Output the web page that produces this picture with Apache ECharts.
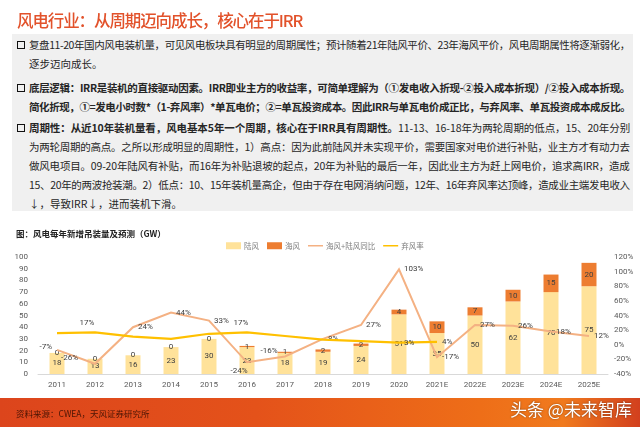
<!DOCTYPE html>
<html><head><meta charset="utf-8">
<script src="https://cdn.jsdelivr.net/npm/echarts@6/dist/echarts.min.js"></script>
<style>
html,body{margin:0;padding:0;width:640px;height:427px;overflow:hidden;background:#fff;font-family:"Noto Sans CJK SC","Noto Sans",sans-serif;}
#chart{position:absolute;left:0;top:0;width:640px;height:427px;}
.abs{position:absolute;white-space:nowrap;}
#title{left:17px;top:8px;font-size:16.5px;color:#E2522B;font-weight:500;line-height:24px;}
#box{left:12px;top:34px;width:621px;height:177px;background:#F0F0F0;}
.ln{font-size:10.5px;color:#262626;line-height:16px;}
.sq{display:inline-block;width:6px;height:6px;border:1.6px solid #111;margin-right:4px;vertical-align:0px;}
#cap{left:16px;top:227px;font-size:8.5px;color:#222;font-weight:bold;line-height:12px;}
#foot{left:0;top:398px;width:640px;height:29px;background:linear-gradient(90deg,#DC451C 0%,#E4521A 40%,#EE6E18 75%,#F07A1E 88%,#D2401E 100%);}
#src{left:16px;top:407px;font-size:8.5px;color:#4a1505;line-height:12px;}
#wm{left:510px;top:398px;font-size:17px;color:#fff;line-height:22px;text-shadow:0 0 2px rgba(0,0,0,0.5);}
</style></head>
<body>
<div id="chart"></div>
<div class="abs" id="title">风电行业：从周期迈向成长，核心在于IRR</div>
<div class="abs" id="box"></div>
<div class="abs ln fit" style="left:17px;top:37px"><span class="sq"></span>复盘11-20年国内风电装机量，可见风电板块具有明显的周期属性；预计随着21年陆风平价、23年海风平价，风电周期属性将逐渐弱化，</div>
<div class="abs ln" style="left:29px;top:56px">逐步迈向成长。</div>
<div class="abs ln fit" style="left:17px;top:80px;font-weight:bold"><span class="sq"></span>底层逻辑：IRR是装机的直接驱动因素。IRR即业主方的收益率，可简单理解为（①发电收入折现-②投入成本折现）/②投入成本折现。</div>
<div class="abs ln fit" style="left:29px;top:99px;font-weight:bold">简化折现，①=发电小时数*（1-弃风率）*单瓦电价；②=单瓦投资成本。因此IRR与单瓦电价成正比，与弃风率、单瓦投资成本成反比。</div>
<div class="abs ln fit" style="left:17px;top:120px"><span class="sq"></span><b>周期性：从近10年装机量看，风电基本5年一个周期，核心在于IRR具有周期性。</b>11-13、16-18年为两轮周期的低点，15、20年分别</div>
<div class="abs ln fit" style="left:29px;top:139px">为两轮周期的高点。之所以形成明显的周期性，1）高点：因为此前陆风并未实现平价，需要国家对电价进行补贴，业主方才有动力去</div>
<div class="abs ln fit" style="left:29px;top:158px">做风电项目。09-20年陆风有补贴，而16年为补贴退坡的起点，20年为补贴的最后一年，因此业主方为赶上网电价，追求高IRR，造成</div>
<div class="abs ln fit" style="left:29px;top:177px">15、20年的两波抢装潮。2）低点：10、15年装机量高企，但由于存在电网消纳问题，12年、16年弃风率达顶峰，造成业主端发电收入</div>
<div class="abs ln" style="left:29px;top:196px">↓，导致IRR↓，进而装机下滑。</div>
<div class="abs" id="cap">图：风电每年新增吊装量及预测（GW）</div>
<div class="abs" id="foot"></div>
<div class="abs" id="src">资料来源：CWEA，天风证券研究所</div>
<div class="abs" id="wm">头条 @未来智库</div>
<script>
document.querySelectorAll('.fit').forEach(function(el){
  var target = 630 - el.offsetLeft;
  var w = el.scrollWidth;
  var n = el.textContent.length;
  el.style.letterSpacing = ((target - w) / n) + 'px';
});
(function(){
  var el = document.getElementById('title');
  var target = 302 - el.offsetLeft;
  var w = el.scrollWidth, n = el.textContent.length;
  el.style.letterSpacing = ((target - w) / n) + 'px';
})();

var years = ['2011','2012','2013','2014','2015','2016','2017','2018','2019','2020','2021E','2022E','2023E','2024E','2025E'];
var onshore = [18,13,16,23,30,23,18,19,24,51,35,50,62,70,75];
var offshore = [0,0,0,0,0,1,1,2,2,4,10,7,10,15,20];
var yoy = [-7,-26,24,44,33,-24,-16,8,27,103,-17,27,26,18,12];
var curtail = [16,17,11,8,15,17,12,7,5,3,4,null,null,null,null];
var leftTicks = {min:0,max:100,interval:10};
var rightTicks = {min:-40,max:120,interval:20};

// label placement (style only)
var yoyPos = ['left','left','right','right','right','bottom','top','right','right','right','right','right','right','right','right'];
var yoyOff = [[0,-3],[-12,-6],[0,0],[0,0],[0,0],[-8,0],[-16,4],[0,0],[0,0],[0,0],[0,0],[0,0],[0,0],[0,0],[0,0]];
var curtShow = {1:['top',[-8,0]],5:['top',[-6,0]],9:['right',[0,0]],10:['right',[0,0]]};

var txt = '#404040';
var fnt = 'Roboto, "Liberation Sans", sans-serif';
var chart = echarts.init(document.getElementById('chart'), null, {renderer:'canvas'});
chart.setOption({
  animation:false,
  backgroundColor:'transparent',
  textStyle:{fontFamily:fnt},
  legend:{
    left:221, top:237, itemWidth:15, itemHeight:7, itemGap:8,
    textStyle:{fontSize:7.5,color:'#7f7f7f',fontFamily:'"Noto Sans CJK SC",sans-serif',padding:[0,0,0,-2]},
    data:[{name:'陆风',icon:'rect'},{name:'海风',icon:'rect'},
          {name:'海风+陆风同比',icon:'path://M0,0 L20,0 L20,2 L0,2 Z',itemStyle:{color:'#F4B183'}},
          {name:'弃风率',icon:'path://M0,0 L20,0 L20,2 L0,2 Z',itemStyle:{color:'#FFC000'}}]
  },
  grid:{left:38,right:32,top:257,bottom:53},
  xAxis:{type:'category',data:years,
    axisLine:{lineStyle:{color:'#D9D9D9',width:1}},axisTick:{show:false},
    axisLabel:{color:'#595959',fontSize:8,margin:7,fontFamily:fnt}},
  yAxis:[
    {type:'value',min:leftTicks.min,max:leftTicks.max,interval:leftTicks.interval,
     splitLine:{show:false},axisLine:{show:false},axisTick:{show:false},
     axisLabel:{color:'#595959',fontSize:8,margin:10,fontFamily:fnt}},
    {type:'value',min:rightTicks.min,max:rightTicks.max,interval:rightTicks.interval,
     splitLine:{show:false},axisLine:{show:false},axisTick:{show:false},
     axisLabel:{color:'#595959',fontSize:8,margin:6,formatter:'{value}%',fontFamily:fnt}}
  ],
  series:[
    {name:'陆风',type:'bar',stack:'t',barWidth:15,data:onshore,
     itemStyle:{color:'#FFE29A'},
     label:{show:true,position:'inside',color:txt,fontSize:8,fontFamily:fnt}},
    {name:'海风',type:'bar',stack:'t',barWidth:15,data:offshore,
     itemStyle:{color:'#ED7D31'},
     label:{show:true,position:'inside',color:txt,fontSize:8,fontFamily:fnt}},
    {name:'海风+陆风同比',type:'line',yAxisIndex:1,smooth:false,symbol:'circle',symbolSize:2,showSymbol:true,
     lineStyle:{color:'#F4B183',width:2,join:'miter'},itemStyle:{color:'rgba(244,177,131,0)'},z:5,
     data:yoy.map(function(v,i){return {value:v,label:{show:true,position:yoyPos[i],offset:yoyOff[i]}};}),
     label:{show:true,formatter:'{c}%',color:txt,fontSize:8,fontFamily:fnt,distance:4}},
    {name:'弃风率',type:'line',yAxisIndex:1,smooth:false,symbol:'circle',symbolSize:2,showSymbol:true,
     lineStyle:{color:'#FFC000',width:2.2},itemStyle:{color:'rgba(255,192,0,0)'},z:6,
     data:curtail.map(function(v,i){
       var c = curtShow[i];
       return {value:v,label:{show:!!c,position:c?c[0]:'top',offset:c?c[1]:[0,0]}};
     }),
     label:{show:false,formatter:'{c}%',color:txt,fontSize:8,fontFamily:fnt,distance:4}}
  ]
});
</script>
</body></html>
